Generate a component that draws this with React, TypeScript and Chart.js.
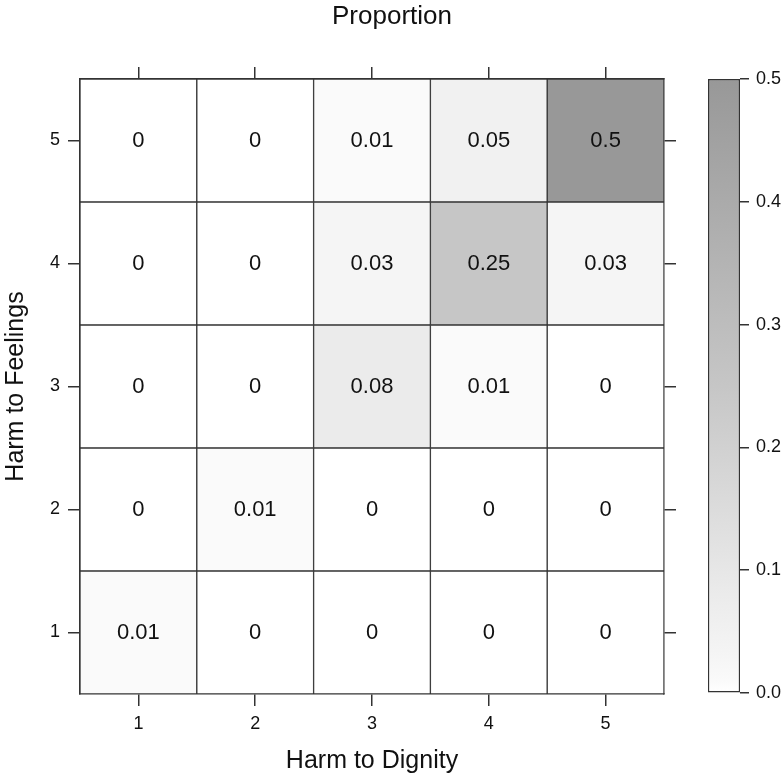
import React, { useEffect, useRef } from 'react';
import { Chart, registerables } from 'chart.js';

Chart.register(...registerables);

const FONT = '"Liberation Sans", Arial, Helvetica, sans-serif';
Chart.defaults.font.family = FONT;
Chart.defaults.color = '#111';

// Categories
const dignityLevels = ['1', '2', '3', '4', '5'];
const feelingsLevels = [1, 2, 3, 4, 5];

// Proportions: one row per "Harm to Feelings" level, columns = "Harm to Dignity" 1..5
const feelings1 = [0.01, 0, 0, 0, 0];
const feelings2 = [0, 0.01, 0, 0, 0];
const feelings3 = [0, 0, 0.08, 0.01, 0];
const feelings4 = [0, 0, 0.03, 0.25, 0.03];
const feelings5 = [0, 0, 0.01, 0.05, 0.5];
const proportionRows = [feelings1, feelings2, feelings3, feelings4, feelings5];

// Colour key ticks
const colorbarTicks = [0, 0.1, 0.2, 0.3, 0.4, 0.5];
const colorbarMax = 0.5;

// Grey ramp stops (value -> grey level)
const grayStopValues = [0, 0.01, 0.03, 0.08, 0.25, 0.5];
const grayStopLevels = [255, 250, 245, 235, 198, 152];

function grayFor(v: number): string {
  let lvl = grayStopLevels[grayStopLevels.length - 1];
  for (let i = 0; i < grayStopValues.length - 1; i++) {
    const a = grayStopValues[i], b = grayStopValues[i + 1];
    if (v >= a && v <= b) {
      const t = (v - a) / (b - a);
      lvl = grayStopLevels[i] + t * (grayStopLevels[i + 1] - grayStopLevels[i]);
      break;
    }
  }
  const l = Math.round(lvl);
  return `rgb(${l},${l},${l})`;
}

const LINE = '#333';

const cellLabels = {
  id: 'cellLabels',
  afterDatasetsDraw(chart: any) {
    const { ctx, scales } = chart;
    const x = scales.x, y = scales.y;
    ctx.save();
    ctx.font = `22px ${FONT}`;
    ctx.fillStyle = '#111';
    ctx.textAlign = 'center';
    ctx.textBaseline = 'middle';
    proportionRows.forEach((row, i) => {
      row.forEach((v, j) => {
        ctx.fillText(String(v), x.getPixelForValue(j), y.getPixelForValue(feelingsLevels[i]));
      });
    });
    ctx.restore();
  },
};

export default function App() {
  const mainRef = useRef<HTMLCanvasElement>(null);
  const keyRef = useRef<HTMLCanvasElement>(null);

  useEffect(() => {
    if (!mainRef.current || !keyRef.current) return;

    const tickGrid = { drawOnChartArea: false, offset: false, tickLength: 12, color: LINE, lineWidth: 1.5 };
    const border = { display: true, color: LINE, width: 1.5 };

    const main = new Chart(mainRef.current, {
      type: 'bar',
      data: {
        labels: dignityLevels,
        datasets: proportionRows.map((row, i) => ({
          label: `Feelings ${feelingsLevels[i]}`,
          data: row.map(() => [feelingsLevels[i] - 0.5, feelingsLevels[i] + 0.5]),
          backgroundColor: row.map(grayFor),
          borderColor: LINE,
          borderWidth: 1,
          borderSkipped: false,
          grouped: false,
          barPercentage: 1,
          categoryPercentage: 1,
        })) as any,
      },
      options: {
        responsive: false,
        animation: false,
        layout: { padding: 0 },
        plugins: {
          legend: { display: false },
          tooltip: { enabled: false },
          title: {
            display: true,
            text: 'Proportion',
            font: { size: 26, weight: 'normal', family: FONT, lineHeight: 1.2 },
            color: '#111',
            padding: { top: 1, bottom: 0 },
          },
        },
        scales: {
          x: {
            type: 'category',
            position: 'bottom',
            offset: true,
            grid: tickGrid,
            border,
            ticks: { font: { size: 18 }, padding: 7, maxRotation: 0 },
            title: {
              display: true,
              text: 'Harm to Dignity',
              font: { size: 25, lineHeight: 1.2 },
              padding: { top: 0, bottom: 0 },
            },
            afterFit: (s: any) => { s.height = 82; },
          },
          x2: {
            type: 'category',
            position: 'top',
            offset: true,
            grid: tickGrid,
            border,
            ticks: { display: false },
            afterFit: (s: any) => { s.height = 46.8; },
          },
          y: {
            type: 'linear',
            position: 'left',
            min: 0.5,
            max: 5.5,
            afterBuildTicks: (s: any) => { s.ticks = feelingsLevels.map((v) => ({ value: v })); },
            grid: tickGrid,
            border,
            ticks: { font: { size: 18 }, padding: 8 },
            title: {
              display: true,
              text: 'Harm to Feelings',
              font: { size: 25, lineHeight: 1.2 },
              padding: { top: 1, bottom: 0 },
            },
            afterFit: (s: any) => { s.width = 80; },
          },
          y2: {
            type: 'linear',
            position: 'right',
            min: 0.5,
            max: 5.5,
            afterBuildTicks: (s: any) => { s.ticks = feelingsLevels.map((v) => ({ value: v })); },
            grid: tickGrid,
            border,
            ticks: { display: false },
            afterFit: (s: any) => { s.width = 120; },
          },
        },
      } as any,
      plugins: [cellLabels],
    });

    const key = new Chart(keyRef.current, {
      type: 'bar',
      data: {
        labels: [''],
        datasets: [
          {
            label: 'Proportion',
            data: [[0, colorbarMax]] as any,
            backgroundColor: (c: any) => {
              const chart = c.chart;
              const { chartArea, scales } = chart;
              if (!chartArea) return '#ccc';
              const y0 = scales.y.getPixelForValue(0);
              const y1 = scales.y.getPixelForValue(colorbarMax);
              const g = chart.ctx.createLinearGradient(0, y0, 0, y1);
              grayStopValues.forEach((v) => g.addColorStop(v / colorbarMax, grayFor(v)));
              return g;
            },
            borderColor: LINE,
            borderWidth: 1.5,
            borderSkipped: false,
            barPercentage: 1,
            categoryPercentage: 1,
          } as any,
        ],
      },
      options: {
        responsive: false,
        animation: false,
        layout: { padding: { left: 8, top: 79, bottom: 83, right: 0 } },
        plugins: { legend: { display: false }, tooltip: { enabled: false }, title: { display: false } },
        scales: {
          x: { display: false },
          y: {
            type: 'linear',
            position: 'right',
            min: 0,
            max: colorbarMax,
            afterBuildTicks: (s: any) => { s.ticks = colorbarTicks.map((v) => ({ value: v })); },
            ticks: { font: { size: 18 }, padding: 7, callback: (v: any) => Number(v).toFixed(1) },
            grid: { drawOnChartArea: false, tickLength: 9, color: LINE, lineWidth: 1.5 },
            border: { display: false },
            afterFit: (s: any) => { s.width = 44; },
          },
        },
      } as any,
    });

    return () => {
      main.destroy();
      key.destroy();
    };
  }, []);

  return (
    <div style={{ position: 'absolute', left: 0, top: 0, width: 784, height: 776, background: '#fff' }}>
      <canvas ref={mainRef} width={784} height={776} style={{ position: 'absolute', left: 0, top: 0, width: 784, height: 776 }} />
      <canvas ref={keyRef} width={84} height={776} style={{ position: 'absolute', left: 700, top: 0, width: 84, height: 776 }} />
    </div>
  );
}
